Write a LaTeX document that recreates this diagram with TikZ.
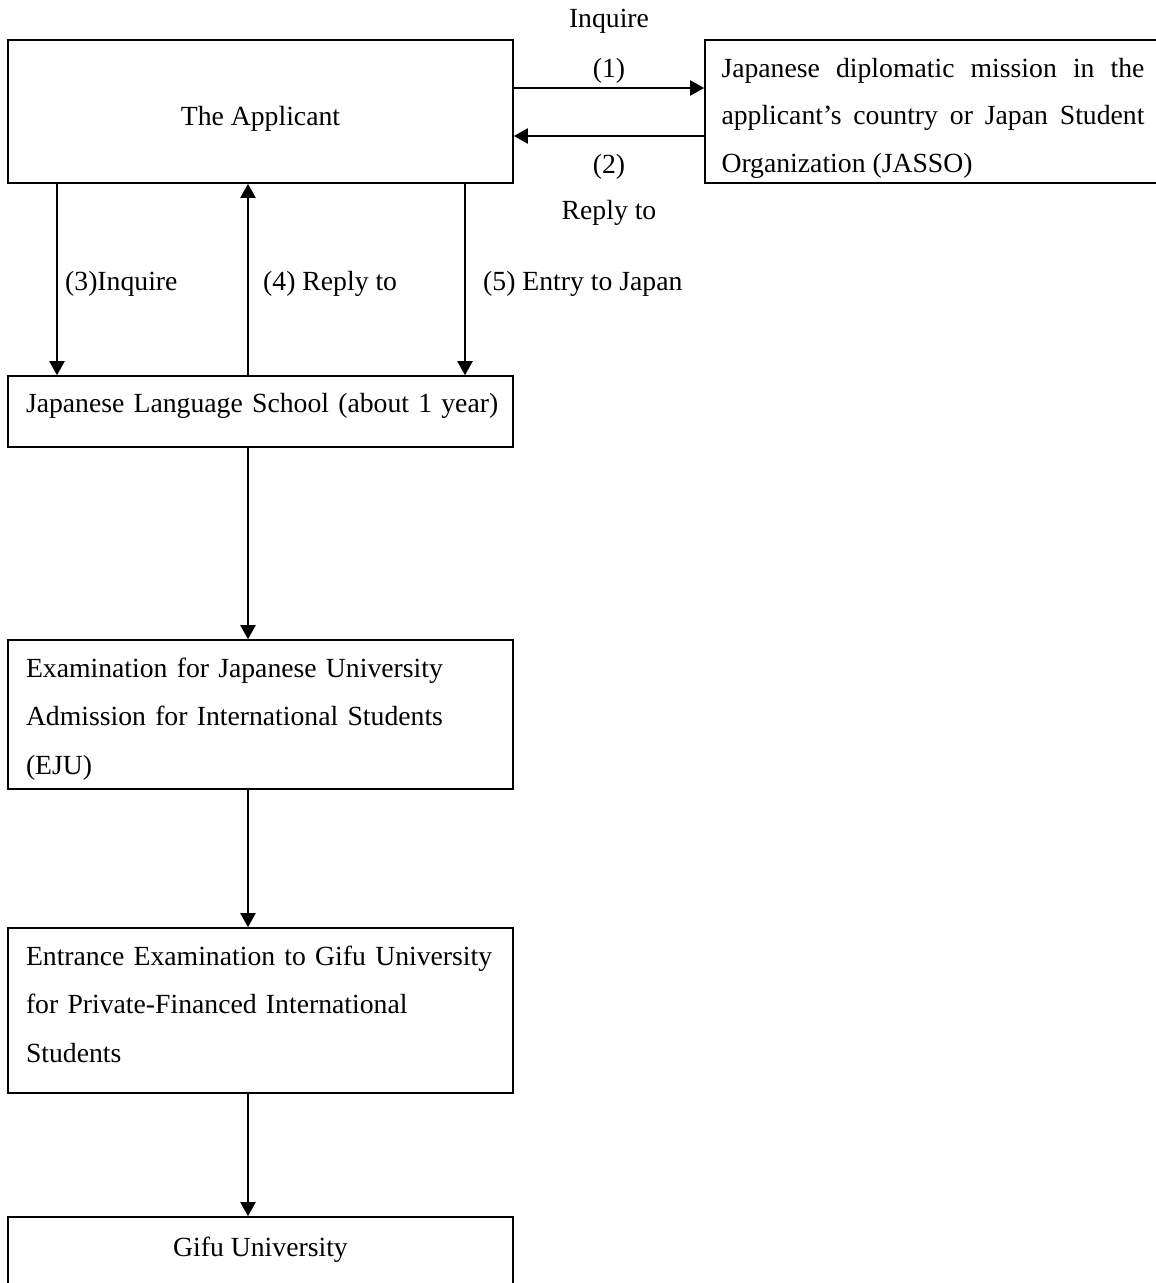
\documentclass[tikz,border=0pt]{standalone}
\usepackage{fontspec}
\setmainfont{Liberation Serif}
\usetikzlibrary{arrows.meta}
\protected\def\myboxspace{\spaceskip=5.9pt plus 2pt minus 1pt\relax}
\begin{document}
\begin{tikzpicture}[x=1pt,y=-1pt,
  box/.style={draw, line width=1.6pt, inner sep=0pt, minimum width=505pt,
    font=\fontsize{27.7}{48.5}\selectfont},
  para/.style={text width=469pt, align=left,
    font=\fontsize{27.7}{48.5}\selectfont\myboxspace},
  arr/.style={line width=2pt, -{Triangle[length=14pt,width=15pt]}},
  lbl/.style={inner sep=0pt, font=\fontsize{27.7}{33}\selectfont}]
\path[use as bounding box, fill=white] (0,0) rectangle (1156,1283);

% boxes
\node[box, minimum height=143pt] (app) at (260.5,111.5)
  {\rule{0pt}{33pt}The Applicant};
\node[box, minimum width=456pt, minimum height=143pt, text width=423pt,
  align=justify, font=\fontsize{27.7}{47.5}\selectfont] (jasso) at (933,111.5)
  {\rule{0pt}{32pt}Japanese diplomatic mission in the\linebreak
   applicant’s country or Japan Student\linebreak
   Organization (JASSO)};
\node[box, para, minimum height=71pt] (jls) at (260.5,411.5)
  {\mbox{Japanese Language School (about 1 year)}\rule[-18pt]{0pt}{18pt}};
\node[box, para, minimum height=149pt] (eju) at (260.5,714.5)
  {\rule{0pt}{28pt}Examination for Japanese University\\
   Admission for International Students\\
   (EJU)};
\node[box, para, minimum height=165pt] (ent) at (260.5,1010.5)
  {\mbox{Entrance Examination to Gifu University}\\
   for Private-Financed International\\
   Students\rule[-13pt]{0pt}{13pt}};
\node[box, minimum height=75pt] (gifu) at (260.5,1254.5)
  {Gifu University\rule[-16pt]{0pt}{16pt}};

% column coordinates
\coordinate (xA) at (57,0);
\coordinate (xB) at (248,0);
\coordinate (xC) at (465,0);
\coordinate (yA) at (0,88);
\coordinate (yB) at (0,136);

% arrows between applicant and JASSO
\draw[arr] (app.east |- yA) -- (jasso.west |- yA);
\draw[arr] (jasso.west |- yB) -- (app.east |- yB);
\node[lbl, anchor=base] (lInq) at (609,27) {Inquire};
\node[lbl, anchor=base] (l1) at (609,77) {(1)};
\node[lbl, anchor=base] (l2) at (609,173) {(2)};
\node[lbl, anchor=base] (lRep) at (609,219) {Reply to};

% arrows between applicant and language school
\draw[arr] (xA |- app.south) -- (xA |- jls.north);
\draw[arr] (xB |- jls.north) -- (xB |- app.south);
\draw[arr] (xC |- app.south) -- (xC |- jls.north);
\node[lbl, anchor=base west] (l3) at (65,290) {(3)Inquire};
\node[lbl, anchor=base west] (l4) at (263,290) {(4) Reply to};
\node[lbl, anchor=base west] (l5) at (483,290) {(5) Entry to Japan};

% main chain
\draw[arr] (xB |- jls.south) -- (xB |- eju.north);
\draw[arr] (xB |- eju.south) -- (xB |- ent.north);
\draw[arr] (xB |- ent.south) -- (xB |- gifu.north);
\end{tikzpicture}
\end{document}
